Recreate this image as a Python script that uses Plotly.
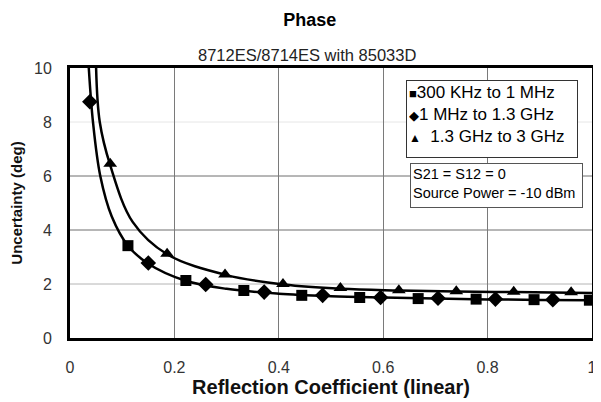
import plotly.graph_objects as go

# marker points
sq_x = [0.111, 0.222, 0.333, 0.444, 0.555, 0.667, 0.778, 0.889, 0.995]
sq_y = [3.42, 2.13, 1.76, 1.58, 1.50, 1.46, 1.44, 1.42, 1.40]

dia_x = [0.038, 0.15, 0.26, 0.372, 0.484, 0.595, 0.705, 0.815, 0.925]
dia_y = [8.75, 2.78, 1.98, 1.70, 1.58, 1.50, 1.47, 1.44, 1.42]

tri_x = [0.077, 0.186, 0.297, 0.408, 0.518, 0.63, 0.74, 0.85, 0.96]
tri_y = [6.45, 3.12, 2.35, 2.0, 1.85, 1.77, 1.73, 1.71, 1.69]

# fitted curves, points
low_x = [0.036, 0.044, 0.058, 0.08, 0.111, 0.15, 0.22, 0.3, 0.4, 0.5, 0.6, 0.7, 0.8, 0.9, 1.0]
low_y = [10.0, 8.0, 6.0, 4.5, 3.42, 2.75, 2.13, 1.82, 1.64, 1.55, 1.50, 1.46, 1.43, 1.41, 1.40]

up_x = [0.05, 0.057, 0.077, 0.12, 0.186, 0.3, 0.41, 0.52, 0.63, 0.74, 0.85, 0.96, 1.0]
up_y = [10.0, 8.0, 6.4, 4.3, 3.1, 2.33, 1.98, 1.82, 1.76, 1.72, 1.70, 1.68, 1.67]

series_names = ['300 KHz to 1 MHz', '1 MHz to 1.3 GHz', '1.3 GHz to 3 GHz']
x_ticks = [0, 0.2, 0.4, 0.6, 0.8, 1]
x_tick_text = ['0', '0.2', '0.4', '0.6', '0.8', '1']
y_ticks = [0, 2, 4, 6, 8, 10]
y_grid = [2, 4, 6, 8]
y_grid_colors = ['#b4b4b4', '#6e6e6e', '#6e6e6e', '#e6e6e6']

font = 'Liberation Sans, Arial'

fig = go.Figure()

fig.add_trace(go.Scatter(x=low_x, y=low_y, mode='lines', line=dict(color='black', width=2.5, shape='spline'), showlegend=False))
fig.add_trace(go.Scatter(x=up_x, y=up_y, mode='lines', line=dict(color='black', width=2.5, shape='spline'), showlegend=False))

fig.add_trace(go.Scatter(x=sq_x, y=sq_y, mode='markers', name=series_names[0], showlegend=False,
                         marker=dict(symbol='square', size=11, color='black')))
fig.add_trace(go.Scatter(x=dia_x, y=dia_y, mode='markers', name=series_names[1], showlegend=False,
                         marker=dict(symbol='diamond', size=12, color='black')))
fig.add_trace(go.Scatter(x=tri_x, y=tri_y, mode='markers', name=series_names[2], showlegend=False,
                         marker=dict(symbol='triangle-up', size=12, color='black')))

# horizontal grid lines with the uneven greys of the original
for yv, col in zip(y_grid, y_grid_colors):
    fig.add_shape(type='line', xref='x', yref='y', x0=0, x1=1, y0=yv, y1=yv, layer='below',
                  line=dict(color=col, width=1))

fig.update_xaxes(range=[0, 1], tickvals=x_ticks, ticktext=x_tick_text, automargin=False,
                 showgrid=True, gridcolor='#7a7a7a', gridwidth=1, zeroline=False, ticks='',
                 showline=True, linecolor='black', linewidth=3, mirror=True, ticklabelstandoff=13,
                 tickfont=dict(family=font, size=16, color='#333'),
                 title=dict(text='<b>Reflection Coefficient (linear)</b>', font=dict(family=font, size=20, color='#111'), standoff=4))
fig.update_yaxes(range=[0, 10], tickvals=y_ticks, automargin=False,
                 showgrid=False, zeroline=False, ticks='',
                 showline=True, linecolor='black', linewidth=3, mirror=True, ticklabelstandoff=12,
                 tickfont=dict(family=font, size=16, color='#333'),
                 title=dict(text='<b>Uncertainty (deg)</b>', font=dict(family=font, size=15, color='#111'), standoff=9))

legend_text = ('<span style="font-size:13px">■</span>' + series_names[0] + '<br>'
               '<span style="font-size:13px">◆</span>' + series_names[1] + '<br>'
               '<span style="font-size:12px">▲</span>  ' + series_names[2])

fig.update_layout(
    width=593, height=394,
    margin=dict(l=62, r=9, t=60, b=64),
    plot_bgcolor='white', paper_bgcolor='white',
    showlegend=False,
    title=dict(text='<b>Phase</b>', x=0.509, xanchor='center', y=0.97, yanchor='middle',
               font=dict(family='Liberation Sans Narrow, Arial Narrow, Liberation Sans', size=18, color='black')),
    annotations=[
        dict(text='8712ES/8714ES with 85033D', xref='paper', yref='paper', x=0.454, y=1.048, xanchor='center', yanchor='middle',
             showarrow=False, font=dict(family=font, size=16.5, color='#222')),
        dict(text=legend_text, xref='paper', yref='paper', x=0.644, y=0.956, xanchor='left', yanchor='top',
             width=166, height=72, align='left', valign='top',
             showarrow=False, bgcolor='white', bordercolor='#333', borderwidth=1, borderpad=2,
             font=dict(family=font, size=17, color='black')),
        dict(text='S21 = S12 = 0<br>Source Power = -10 dBm', xref='paper', yref='paper', x=0.651, y=0.648, xanchor='left', yanchor='top',
             width=167, height=39, align='left', valign='top',
             showarrow=False, bgcolor='white', bordercolor='#555', borderwidth=1, borderpad=2,
             font=dict(family=font, size=14.5, color='black')),
    ],
)

fig.write_html("out.html")
